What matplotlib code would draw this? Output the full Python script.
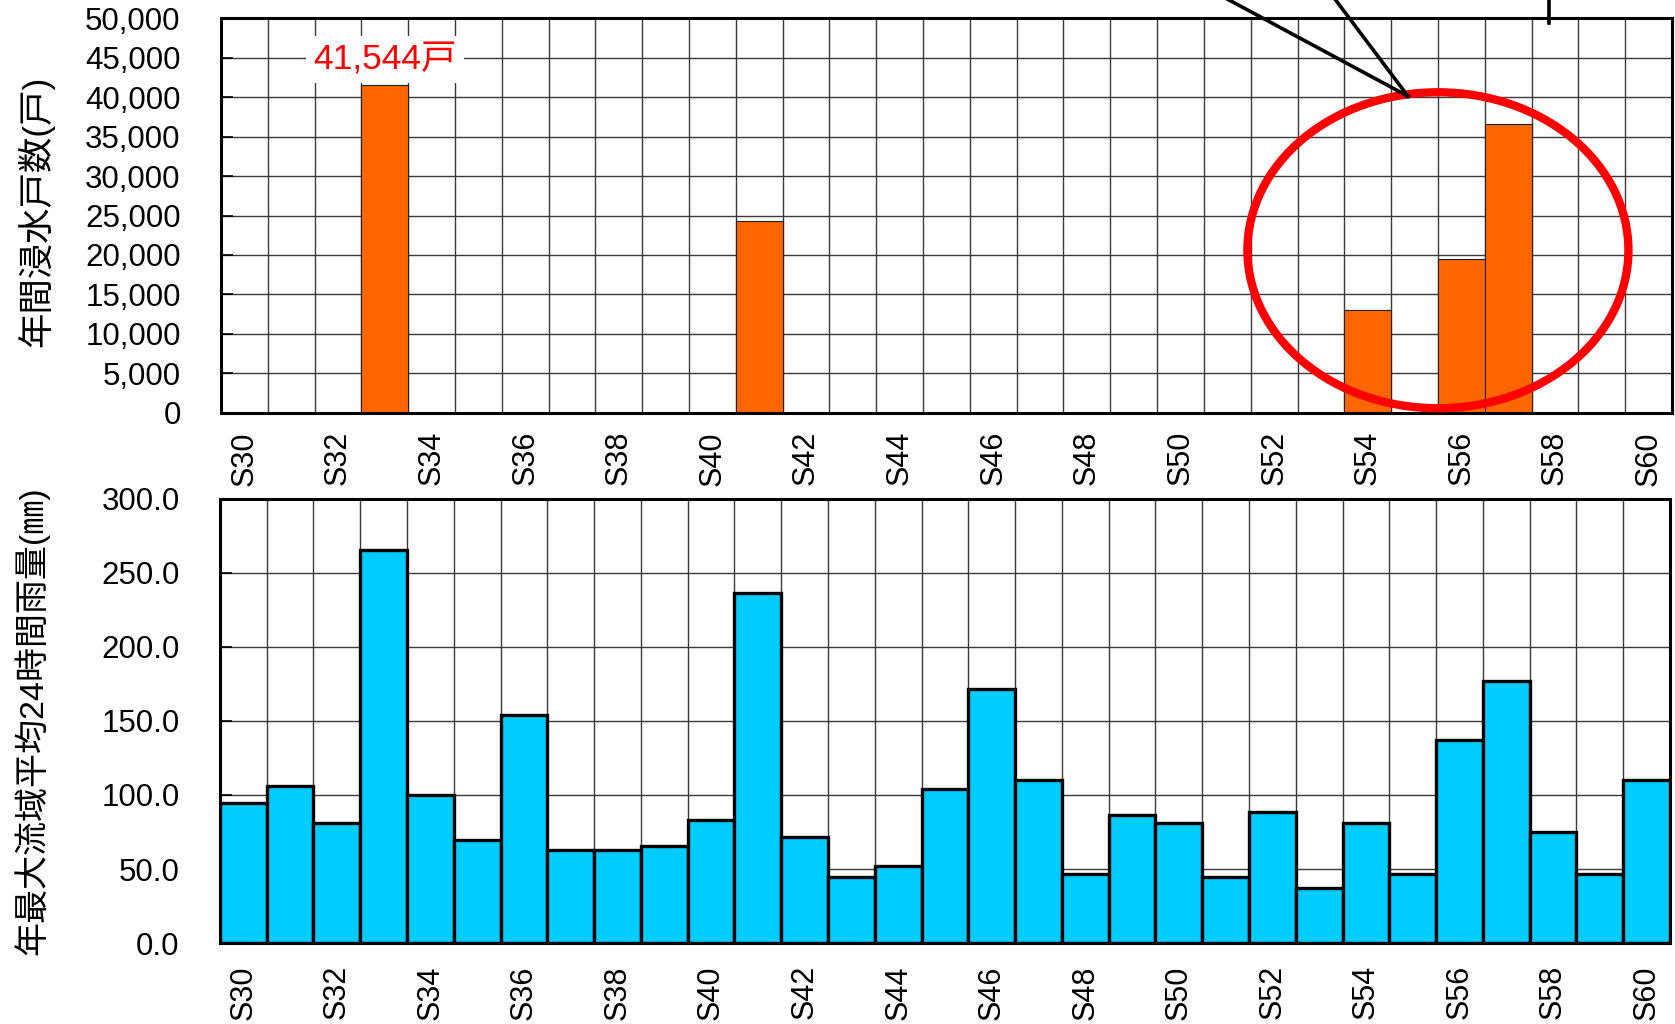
import matplotlib
matplotlib.use("Agg")
import matplotlib.pyplot as plt
from matplotlib.patches import Ellipse
from matplotlib.ticker import FuncFormatter, MultipleLocator
import numpy as np

plt.rcParams['font.family'] = ['Liberation Sans', 'Noto Sans CJK JP', 'DejaVu Sans']

# 年度 (昭和)
years = ["S30", "S31", "S32", "S33", "S34", "S35", "S36", "S37", "S38", "S39",
         "S40", "S41", "S42", "S43", "S44", "S45", "S46", "S47", "S48", "S49",
         "S50", "S51", "S52", "S53", "S54", "S55", "S56", "S57", "S58", "S59",
         "S60"]

# 年間浸水戸数 (戸)
flooded_houses = [0, 0, 0, 41544, 0, 0, 0, 0, 0, 0,
                  0, 24300, 0, 0, 0, 0, 0, 0, 0, 0,
                  0, 0, 0, 0, 13060, 0, 19530, 36640, 0, 0,
                  0]

# 年最大流域平均24時間雨量 (mm)
rainfall_24h = [94.3, 106.0, 81.0, 265.2, 100.0, 69.4, 154.0, 63.1, 63.1, 65.7,
                82.9, 236.6, 71.4, 44.7, 51.9, 104.2, 171.4, 109.9, 46.5, 86.8,
                81.0, 44.7, 88.8, 36.9, 81.0, 46.5, 136.9, 176.9, 75.1, 46.5,
                109.9]

peak_label = "41,544戸"

x = np.arange(len(years))

fig = plt.figure(figsize=(16.75, 10.24), dpi=100)
ax1 = fig.add_axes([0.1319, 0.5967, 0.8663, 0.3857])
ax2 = fig.add_axes([0.1313, 0.0791, 0.8657, 0.4336])

grid_kw = dict(color='#3a3a3a', linewidth=1.0)


def style_axis(ax, ymax, ystep, fmt, label_pad):
    ax.set_xlim(-0.5, len(years) - 0.5)
    ax.set_ylim(0, ymax)
    ax.yaxis.set_major_locator(MultipleLocator(ystep))
    ax.yaxis.set_major_formatter(FuncFormatter(fmt))
    ax.set_xticks(x[::2])
    ax.set_xticklabels(years[::2], rotation=90)
    ax.set_xticks(np.arange(-0.5, len(years), 1.0), minor=True)
    ax.grid(which='minor', axis='x', **grid_kw)
    ax.grid(which='major', axis='y', **grid_kw)
    ax.grid(which='major', axis='x', visible=False)
    ax.set_axisbelow(True)
    ax.tick_params(axis='y', direction='in', length=8.5, width=1.2,
                   labelsize=22.5, pad=29)
    ax.tick_params(axis='x', which='both', length=0, labelsize=22,
                   pad=label_pad)
    for s in ax.spines.values():
        s.set_linewidth(2.2)
        s.set_color('black')


# 上段: 年間浸水戸数
ax1.bar(x, flooded_houses, width=1.0, color='#FF6600',
        edgecolor='#222222', linewidth=0.8, zorder=2)
style_axis(ax1, 50000, 5000, lambda v, p: f"{int(v):,}", 13)

ax1.text(3, 44700, peak_label, color='#FF0000', fontsize=25.5,
         ha='center', va='center', zorder=5,
         bbox=dict(facecolor='white', edgecolor='none', pad=5))

# 近年の浸水被害を囲む
ax1.add_patch(Ellipse((25.5, 20600), 8.14, 40000, fill=False,
                      edgecolor='#FF0000', linewidth=6, zorder=6,
                      clip_on=False))

# 引出し線
apex = (24.86, 40100)
for x_top in (21.0, 23.3):
    ax1.plot([x_top, apex[0]], [52400, apex[1]], color='black',
             linewidth=2.6, zorder=7, clip_on=False)
ax1.plot([27.88, 27.88], [52400, 49400], color='black', linewidth=2.6,
         zorder=7, clip_on=False)

# 下段: 年最大流域平均24時間雨量
ax2.bar(x, rainfall_24h, width=1.0, color='#00CCFF',
        edgecolor='black', linewidth=2.4, zorder=2)
style_axis(ax2, 300, 50, lambda v, p: f"{v:.1f}", 16)

fig.text(36 / 1675, 1 - 211 / 1024, "年間浸水戸数(戸)", rotation=90,
         ha='center', va='center', fontsize=25.5)
fig.text(32 / 1675, 1 - 721 / 1024, "年最大流域平均24時間雨量(㎜)", rotation=90,
         ha='center', va='center', fontsize=24.5)

fig.savefig("out.png", dpi=100, facecolor='white')
